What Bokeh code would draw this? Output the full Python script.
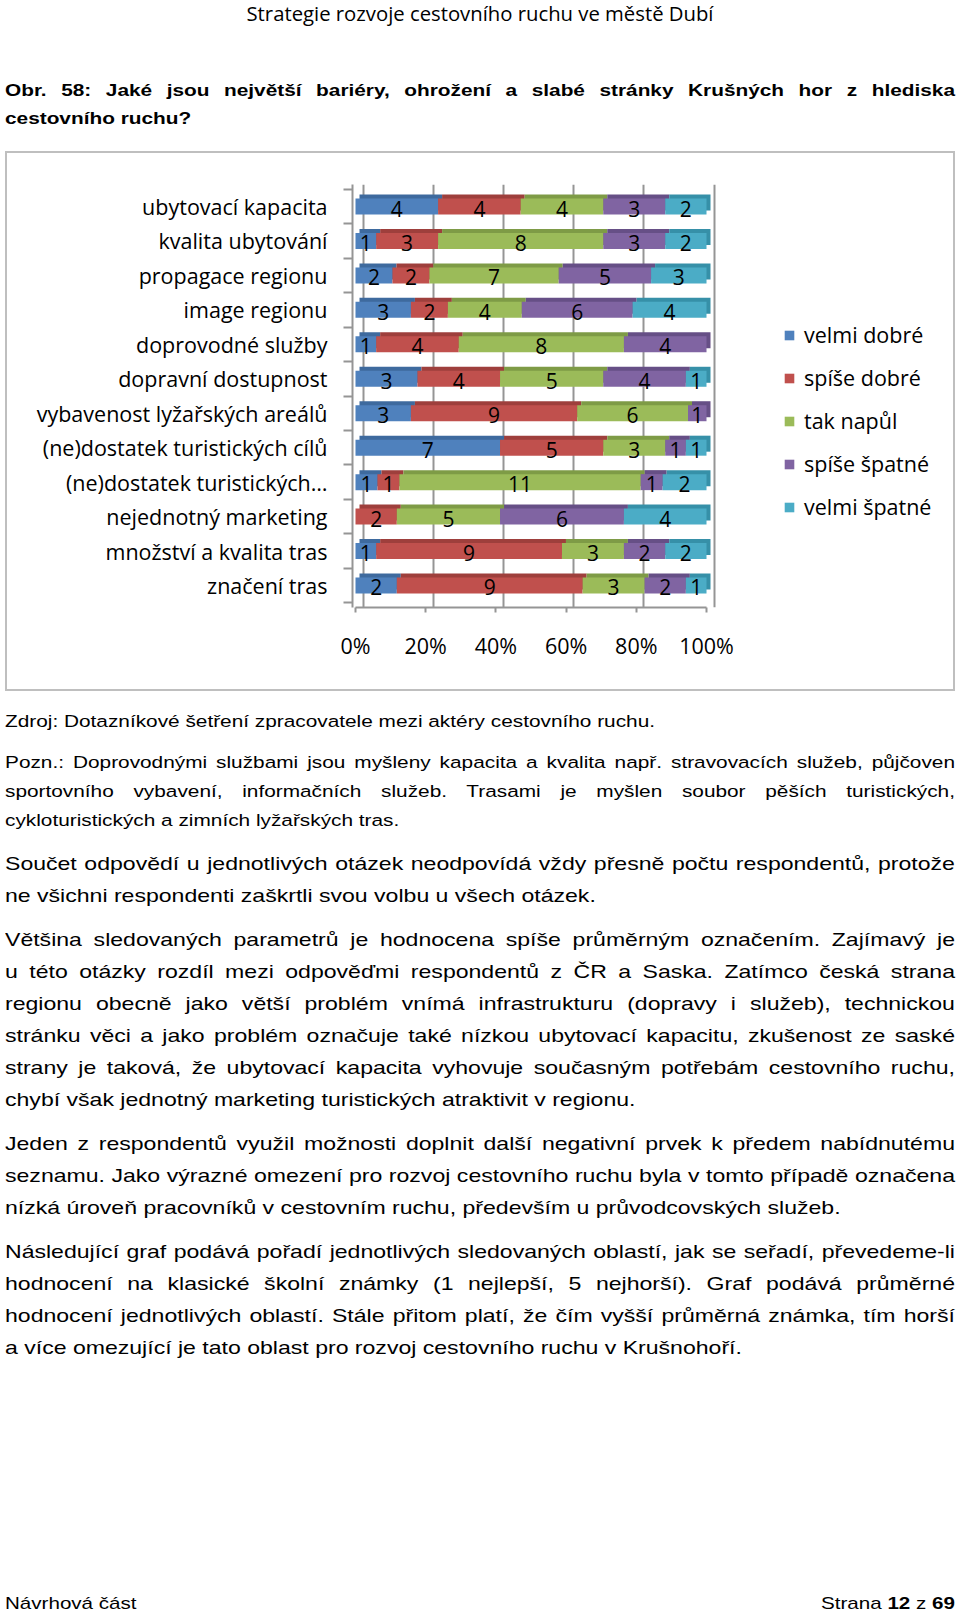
import numpy as np
from bokeh.plotting import figure
from bokeh.models import (Range1d, FixedTicker, NumeralTickFormatter, ColumnDataSource,
                          Div, Spacer, Legend, LegendItem, LinearAxis, Grid)
from bokeh.layouts import column, row
from bokeh.embed import file_html
from bokeh.resources import INLINE
from bokeh.core.properties import value

# ---------------- data ----------------
categories = [
    "ubytovací kapacita",
    "kvalita ubytování",
    "propagace regionu",
    "image regionu",
    "doprovodné služby",
    "dopravní dostupnost",
    "vybavenost lyžařských areálů",
    "(ne)dostatek turistických cílů",
    "(ne)dostatek turistických…",
    "nejednotný marketing",
    "množství a kvalita tras",
    "značení tras",
]
series_names = ["velmi dobré", "spíše dobré", "tak napůl", "spíše špatné", "velmi špatné"]
velmi_dobre = [4, 1, 2, 3, 1, 3, 3, 7, 1, 0, 1, 2]
spise_dobre = [4, 3, 2, 2, 4, 4, 9, 5, 1, 2, 9, 9]
tak_napul = [4, 8, 7, 4, 8, 5, 6, 3, 11, 5, 3, 3]
spise_spatne = [3, 3, 5, 6, 4, 4, 1, 1, 1, 6, 2, 2]
velmi_spatne = [2, 2, 3, 4, 0, 1, 0, 1, 2, 4, 2, 1]
x_ticks = [0, 0.2, 0.4, 0.6, 0.8, 1.0]

colors = ["#4F81BD", "#C0504D", "#9BBB59", "#8064A2", "#4BACC6"]
top_colors = ["#3E6A9E", "#9E3F3C", "#7E9B46", "#664F86", "#3690A8"]

# ---------------- chart ----------------
counts = np.array([velmi_dobre, spise_dobre, tak_napul, spise_spatne, velmi_spatne], dtype=float)
totals = counts.sum(axis=0)
frac = counts / totals
right = np.cumsum(frac, axis=0)
left = right - frac
ypos = np.arange(len(categories), dtype=float)

PX = 351.0     # pixels per 100 %
ROW = 34.45    # pixels per category
dx = 4.0 / PX
dy = 4.0 / ROW
bar_h = 16.0 / ROW

FONT = "Open Sans"
FRAME_W = 946 - 345 - 8

p = figure(width=946, height=536,
           x_range=Range1d(-3.0 / PX, -3.0 / PX + FRAME_W / PX),
           y_range=Range1d(11.0 + 22.0 / ROW, -22.0 / ROW),
           output_backend="svg", toolbar_location=None,
           x_axis_location=None, y_axis_location=None,
           min_border_left=345, min_border_right=8,
           min_border_top=31, min_border_bottom=82)
p.outline_line_color = None
p.background_fill_color = "white"
p.border_fill_color = "white"
p.styles = {"outline": "2px solid #bfbfbf"}
for g in p.grid:
    g.visible = False

# back wall grid lines
grid_ticks = [t + 7.5 / PX for t in x_ticks]
p.add_layout(Grid(dimension=0, ticker=FixedTicker(ticks=grid_ticks),
                  grid_line_color="#959595", grid_line_width=2))

# y axis with category labels
yaxis = LinearAxis(ticker=FixedTicker(ticks=list(ypos),
                                      minor_ticks=[-0.5] + list(ypos + 0.5)),
                   major_label_overrides={int(i): c for i, c in enumerate(categories)},
                   major_tick_out=0, major_tick_in=0,
                   minor_tick_out=9, minor_tick_in=0,
                   minor_tick_line_color="#959595", minor_tick_line_width=2,
                   axis_line_color="#959595", axis_line_width=2,
                   major_label_standoff=16,
                   major_label_text_font=FONT,
                   major_label_text_font_size="21.5px",
                   major_label_text_color="#000000")
p.add_layout(yaxis, "left")

xaxis = LinearAxis(ticker=FixedTicker(ticks=x_ticks),
                   formatter=NumeralTickFormatter(format="0%"),
                   bounds=(0, 1),
                   major_tick_out=5, major_tick_in=0,
                   major_tick_line_color="#959595", major_tick_line_width=2,
                   axis_line_color="#959595", axis_line_width=2,
                   major_label_standoff=18,
                   major_label_text_font=FONT,
                   major_label_text_font_size="21.5px",
                   major_label_text_color="#000000")
p.add_layout(xaxis, "below")

# 3D depth (top / side faces)
for j in range(len(series_names)):
    src = ColumnDataSource(dict(y=ypos - dy, left=left[j] + dx, right=right[j] + dx))
    p.hbar(y="y", left="left", right="right", height=bar_h, source=src,
           fill_color=top_colors[j], line_color=None)

front = []
for j in range(len(series_names)):
    src = ColumnDataSource(dict(y=ypos, left=left[j], right=right[j]))
    r = p.hbar(y="y", left="left", right="right", height=bar_h, source=src,
               fill_color=colors[j], line_color=None)
    front.append(r)

for j in range(len(series_names)):
    mask = counts[j] > 0
    src = ColumnDataSource(dict(
        x=((left[j] + right[j]) / 2)[mask],
        y=ypos[mask],
        t=[str(int(v)) for v in counts[j][mask]]))
    p.text(x="x", y="y", text="t", source=src, text_align="center",
           text_baseline="middle", text_font=value(FONT),
           text_font_size="21px", text_color="#000000", y_offset=2)

legend = Legend(items=[LegendItem(label=n, renderers=[r]) for n, r in zip(series_names, front)],
                location=(431, 86), orientation="vertical",
                glyph_width=12, glyph_height=12, label_standoff=9, spacing=14,
                padding=0, margin=0, border_line_color=None, background_fill_alpha=0,
                label_text_font=FONT, label_text_font_size="21.5px",
                label_text_color="#000000")
p.add_layout(legend)

# ---------------- page text ----------------
def line(text, center, fs, scale=1.0, justify=False, bold=False, align="left",
         family="'Liberation Sans', Arial, sans-serif", left=5, width=950):
    L = round(fs * 1.3)
    top = center - L / 2.0
    inner_w = width / scale
    ta = "justify" if justify else align
    return (f'<div style="position:absolute;left:{left}px;top:{top:.1f}px;'
            f'width:{inner_w:.1f}px;height:{L}px;line-height:{L}px;'
            f'font-family:{family};font-size:{fs}px;'
            f'font-weight:{"bold" if bold else "normal"};white-space:nowrap;'
            f'text-align:{ta};text-align-last:{ta};color:#000;'
            f'transform:scaleX({scale});transform-origin:0 0;">{text}</div>')

S = 1.24
BODY = 18.6
NOTE = 16.8
TOP_H = 153

top_html = [f'<div style="position:relative;width:960px;height:{TOP_H}px;">']
top_html.append(line("Strategie rozvoje cestovního ruchu ve městě Dubí", 12.5, 20.3,
                     align="center", family="'Open Sans', sans-serif", left=0, width=960))
top_html.append(line("Obr. 58: Jaké jsou největší bariéry, ohrožení a slabé stránky Krušných hor z hlediska",
                     90.5, 16.8, scale=S, justify=True, bold=True))
top_html.append(line("cestovního ruchu?", 119.3, 16.8, scale=S, bold=True))
top_html.append("</div>")

body_lines = [
    ("Zdroj: Dotazníkové šetření zpracovatele mezi aktéry cestovního ruchu.", 722.2, NOTE, False),
    ("Pozn.: Doprovodnými službami jsou myšleny kapacita a kvalita např. stravovacích služeb, půjčoven", 763.3, NOTE, True),
    ("sportovního vybavení, informačních služeb. Trasami je myšlen soubor pěších turistických,", 792.1, NOTE, True),
    ("cykloturistických a zimních lyžařských tras.", 820.9, NOTE, False),
    ("Součet odpovědí u jednotlivých otázek neodpovídá vždy přesně počtu respondentů, protože", 864.1, BODY, True),
    ("ne všichni respondenti zaškrtli svou volbu u všech otázek.", 896.0, BODY, False),
    ("Většina sledovaných parametrů je hodnocena spíše průměrným označením. Zajímavý je", 940.2, BODY, True),
    ("u&nbsp;této otázky rozdíl mezi odpověďmi respondentů z&nbsp;ČR a Saska. Zatímco česká strana", 972.1, BODY, True),
    ("regionu obecně jako větší problém vnímá infrastrukturu (dopravy i služeb), technickou", 1004.0, BODY, True),
    ("stránku věci a jako problém označuje také nízkou ubytovací kapacitu, zkušenost ze saské", 1035.9, BODY, True),
    ("strany je taková, že ubytovací kapacita vyhovuje současným potřebám cestovního ruchu,", 1067.8, BODY, True),
    ("chybí však jednotný marketing turistických atraktivit v regionu.", 1099.7, BODY, False),
    ("Jeden z&nbsp;respondentů využil možnosti doplnit další negativní prvek k&nbsp;předem nabídnutému", 1143.9, BODY, True),
    ("seznamu. Jako výrazné omezení pro rozvoj cestovního ruchu byla v tomto případě označena", 1175.8, BODY, True),
    ("nízká úroveň pracovníků v cestovním ruchu, především u průvodcovských služeb.", 1207.7, BODY, False),
    ("Následující graf podává pořadí jednotlivých sledovaných oblastí, jak se seřadí, převedeme-li", 1251.9, BODY, True),
    ("hodnocení na klasické školní známky (1 nejlepší, 5 nejhorší). Graf podává průměrné", 1283.8, BODY, True),
    ("hodnocení jednotlivých oblastí. Stále přitom platí, že čím vyšší průměrná známka, tím horší", 1315.7, BODY, True),
    ("a více omezující je tato oblast pro rozvoj cestovního ruchu v Krušnohoří.", 1347.6, BODY, False),
]
OFF = TOP_H + 536
BOT_H = 1613 - OFF
bot_html = [f'<div style="position:relative;width:960px;height:{BOT_H}px;">']
for txt, cy, fs, just in body_lines:
    bot_html.append(line(txt, cy - OFF, fs, scale=S, justify=just))
bot_html.append(line("Návrhová část", 1603.7 - OFF, 16.6, scale=S))
bot_html.append(line("Strana <b>12</b> z <b>69</b>", 1603.7 - OFF, 16.6, scale=S, align="right"))
bot_html.append("</div>")

top_div = Div(text="".join(top_html), width=960, height=TOP_H, margin=0)
bot_div = Div(text="".join(bot_html), width=960, height=BOT_H, margin=0)

layout = column(top_div, row(Spacer(width=7, height=536, margin=0), p, spacing=0, margin=0),
                bot_div, spacing=0, margin=0)

open("out.html", "w").write(file_html(layout, INLINE))
